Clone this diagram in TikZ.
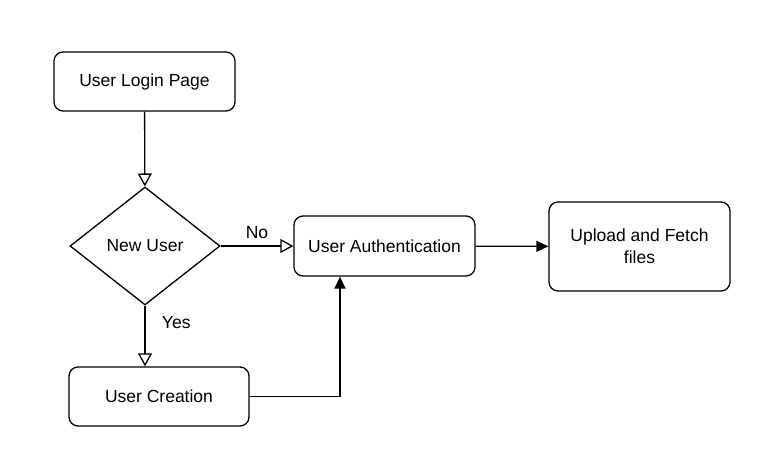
\documentclass[tikz,border=0pt]{standalone}
\usepackage{fontspec}
\setmainfont{Liberation Sans}
\usetikzlibrary{arrows.meta,shapes.geometric,positioning}

\tikzset{
  stepbox/.style={draw, line width=1.3pt, rounded corners=9pt, align=center, inner sep=0pt},
  choice/.style={draw, diamond, line width=1.3pt, inner sep=0pt, minimum width=150pt, minimum height=118pt},
  openarrow/.style={line width=1.3pt, -{Triangle[open, length=13pt, width=14pt, line width=1.3pt]}},
  fullarrow/.style={line width=1.3pt, -{Triangle[length=12pt, width=11pt]}}
}

\begin{document}
\begin{tikzpicture}[x=1pt, y=-1pt, font=\fontsize{17.5}{22}\selectfont]
    \useasboundingbox (0,0) rectangle (759,460);
    % boxes, from the top
    \node[stepbox, minimum width=181pt, minimum height=59pt] (login) at (144.5,81.5) {User Login Page};
    \node[choice] (newuser) at (145,246) {New User};
    \node[stepbox, minimum width=181pt, minimum height=60pt] (auth) at (384.5,246) {User Authentication};
    \node[stepbox, minimum width=181pt, minimum height=89pt] (upload) at (639.5,246.5) {Upload and Fetch\\files};
    \node[stepbox, minimum width=180pt, minimum height=59pt] (create) at (159,396.5) {User Creation};
    % connectors
    \draw[openarrow] (login) -- (newuser);
    \draw[openarrow] (newuser.east) -- (auth.west) node[pos=0.5, above=3pt] {No};
    \draw[openarrow] (newuser.south) -- (newuser.south |- create.north) node[pos=0.28, right=13pt] {Yes};
    \draw[fullarrow] (create.east) -| ([xshift=-44.5pt]auth.south);
    \draw[fullarrow] (auth) -- (upload);
\end{tikzpicture}
\end{document}
